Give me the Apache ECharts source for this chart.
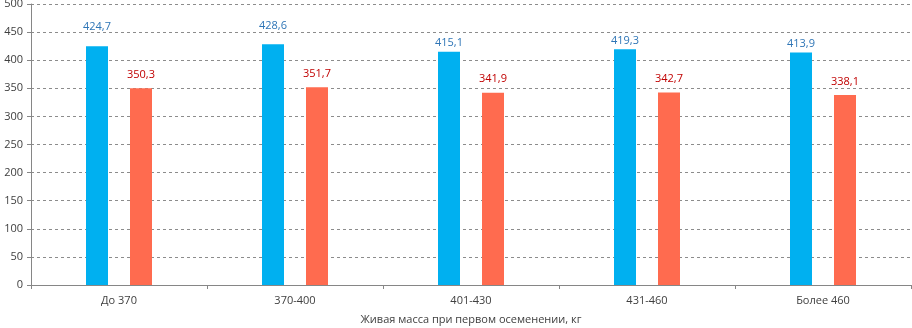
<!DOCTYPE html>
<html>
<head>
<meta charset="utf-8">
<script src="https://cdn.jsdelivr.net/npm/echarts@6/dist/echarts.min.js"></script>
<style>
  html, body { margin: 0; padding: 0; background: #fff; }
  #chart { width: 912px; height: 328px; }
</style>
</head>
<body>
<div id="chart"></div>
<script>
// категории и значения
const categories = ['До 370', '370-400', '401-430', '431-460', 'Более 460'];
const seriesBlue = [424.7, 428.6, 415.1, 419.3, 413.9];
const seriesRed = [350.3, 351.7, 341.9, 342.7, 338.1];
const axisTitle = 'Живая масса при первом осеменении, кг';

// подписи у синих столбцов в оригинале сдвинуты вручную
const blueLabelGap = [14, 13, 3, 3, 3];

const fmt = p => String(p.value.toFixed(1)).replace('.', ',');
const font = 'Open Sans';

const myChart = echarts.init(document.getElementById('chart'));
myChart.setOption({
  animation: false,
  grid: { left: 31, right: 1, top: 4, bottom: 43, outerBoundsMode: 'none' },
  xAxis: {
    type: 'category',
    data: categories,
    name: axisTitle,
    nameLocation: 'middle',
    nameGap: 29,
    nameTextStyle: { color: '#404040', fontSize: 11, fontFamily: font },
    axisLine: { lineStyle: { color: '#868686' } },
    axisTick: { show: true, length: 4, lineStyle: { color: '#868686' } },
    axisLabel: { color: '#404040', fontSize: 11, fontFamily: font, margin: 10 }
  },
  yAxis: {
    type: 'value',
    min: 0,
    max: 500,
    interval: 50,
    axisLine: { show: true, lineStyle: { color: '#868686' } },
    axisTick: { show: true, length: 4, lineStyle: { color: '#868686' } },
    axisLabel: { color: '#404040', fontSize: 11, fontFamily: font, margin: 8 },
    splitLine: { lineStyle: { color: '#8c8c8c', type: [3, 3], width: 1 } }
  },
  series: [
    {
      type: 'bar',
      data: seriesBlue.map((v, i) => ({ value: v, label: { distance: blueLabelGap[i] } })),
      barWidth: 22,
      barGap: '100%',
      itemStyle: { color: '#00B0F0' },
      label: {
        show: true, position: 'top',
        formatter: fmt, color: '#2E75B6', fontSize: 11, fontFamily: font
      }
    },
    {
      type: 'bar',
      data: seriesRed,
      barWidth: 22,
      itemStyle: { color: '#FF6B4F' },
      label: {
        show: true, position: 'top', distance: 8,
        formatter: fmt, color: '#C00000', fontSize: 11, fontFamily: font
      }
    }
  ]
});
</script>
</body>
</html>
